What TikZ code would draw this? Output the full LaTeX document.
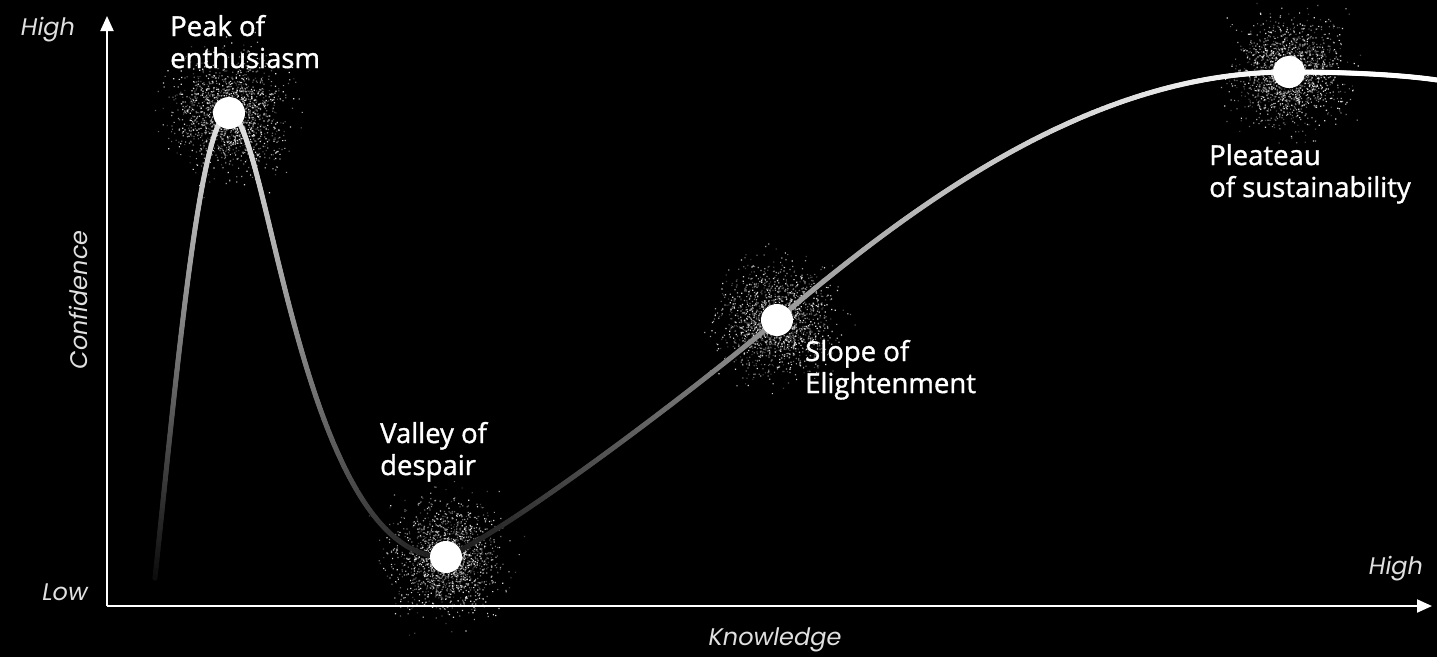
\documentclass[tikz,border=0pt]{standalone}
\usepackage{fontspec}
\setmainfont{Open Sans}[FakeBold=1.2]
\newfontfamily\axisfont{Poppins}
\usetikzlibrary{arrows.meta, decorations.markings}

\tikzset{
  lbl/.style={text=white, font=\fontsize{27.5}{32}\selectfont, align=left, anchor=base west, inner sep=0pt},
  axlbl/.style={text=white!88!black, font=\axisfont\itshape\fontsize{24}{28}\selectfont, inner sep=0pt},
  dot/.style={circle, fill=white, minimum size=32pt, inner sep=0pt},
  axis/.style={white, line width=2pt, -{Triangle[length=15pt,width=13pt]}},
  fade line/.style 2 args={decoration={markings,
      mark=between positions 0 and 1 step 1.2pt with {%
        \pgfmathtruncatemacro\cg{100*(#1+(#2-#1)*\pgfkeysvalueof{/pgf/decoration/mark info/distance from start}/\pgfdecoratedpathlength)}%
        \fill[white!\cg!black] (0,0) circle (2.6pt);}},
    decorate}
}
\newcommand\speckle[1]{%
  \foreach \g in {25,40,60,85}{%
    \fill[white!\g!black, shift={(#1)}] \foreach \k in {1,...,420}{
      ({44*(rnd+rnd+rnd+rnd-2)},{44*(rnd+rnd+rnd+rnd-2)}) rectangle ++(1.2,1.2)};
  }}

\begin{document}
\begin{tikzpicture}[x=1pt, y=-1pt]
\pgfmathsetseed{7}
\useasboundingbox (0,0) rectangle (1437,657);
\fill[black] (0,0) rectangle (1437,657);

% points on the curve
\coordinate (start) at (155,578);
\coordinate (peak) at (229,113);
\coordinate (valley) at (446,557);
\coordinate (slope) at (777,320);
\coordinate (plateau) at (1289,72);
\coordinate (end) at (1437,80);

% glow round the stages
\speckle{peak}
\speckle{valley}
\speckle{slope}
\speckle{plateau}

% axes
\coordinate (origin) at (107,606);
\coordinate (ytop) at (107,16);
\coordinate (xend) at (1432,606);
\draw[axis] (origin) -- (ytop);
\draw[axis] (origin) -- (xend);

% the curve
\path[fade line={0.05}{0.92}] (start) .. controls (176,380) and (200,113) .. (peak);
\path[fade line={0.92}{0.1}] (peak) .. controls (268,113) and (300,560) .. (valley);
\path[fade line={0.1}{0.6}] (valley) .. controls (510,530) and (700,385) .. (slope);
\path[fade line={0.6}{1}] (slope) .. controls (930,190) and (1100,72) .. (plateau);
\path[fade line={1}{1}] (plateau) .. controls (1360,72) and (1410,76) .. (end);

\node[dot] (peakdot) at (peak) {};
\node[dot] (valleydot) at (valley) {};
\node[dot] (slopedot) at (slope) {};
\node[dot] (plateaudot) at (plateau) {};

\node[lbl] (peaklbl) at (170,68) {Peak of\\enthusiasm};
\node[lbl] (valleylbl) at (380,475) {Valley of\\despair};
\node[lbl] (slopelbl) at (805,393) {Slope of\\Elightenment};
\node[lbl] (plateaulbl) at (1209,197) {Pleateau\\of sustainability};

\node[axlbl] (yhigh) at (48,30) {High};
\node[axlbl] (ylow) at (65,592) {Low};
\node[axlbl, rotate=90] (ylabel) at (78,300) {Confidence};
\node[axlbl] (xhigh) at (1396,569) {High};
\node[axlbl] (xlabel) at (775,640) {Knowledge};
\end{tikzpicture}
\end{document}
